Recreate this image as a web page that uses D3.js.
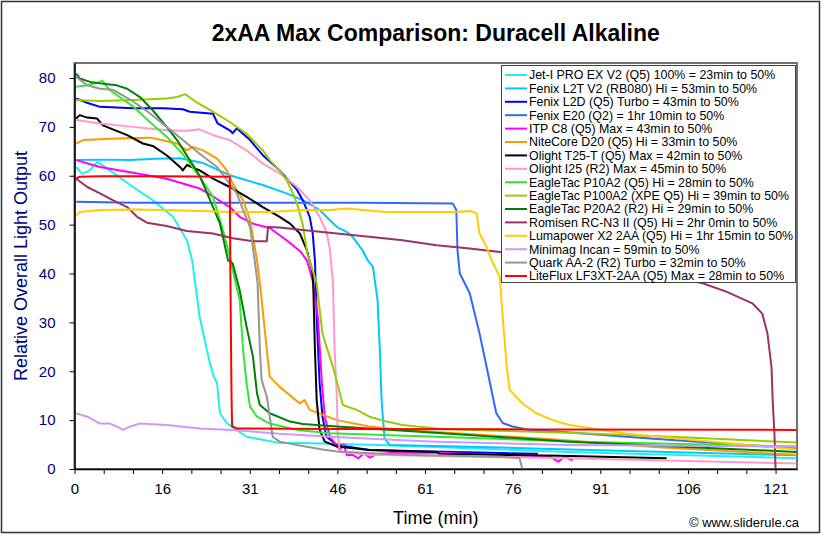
<!DOCTYPE html>
<html><head><meta charset="utf-8">
<script src="https://cdn.jsdelivr.net/npm/d3@7"></script>
<style>body{margin:0;background:#fff}svg{display:block;font-family:"Liberation Sans",Arial,sans-serif}</style>
</head><body><svg id="c" width="823" height="536"></svg>
<script>
// ---- data ----
const seriesNames = [
  "Jet-I PRO EX V2 (Q5) 100% = 23min to 50%",
  "Fenix L2T V2 (RB080) Hi = 53min to 50%",
  "Fenix L2D (Q5) Turbo = 43min to 50%",
  "Fenix E20 (Q2) = 1hr 10min to 50%",
  "ITP C8 (Q5) Max = 43min to 50%",
  "NiteCore D20 (Q5) Hi = 33min to 50%",
  "Olight T25-T (Q5) Max = 42min to 50%",
  "Olight I25 (R2) Max = 45min to 50%",
  "EagleTac P10A2 (Q5) Hi = 28min to 50%",
  "EagleTac P100A2 (XPE Q5) Hi = 39min to 50%",
  "EagleTac P20A2 (R2) Hi = 29min to 50%",
  "Romisen RC-N3 II (Q5) Hi = 2hr 0min to 50%",
  "Lumapower X2 2AA (Q5) Hi = 1hr 15min to 50%",
  "Minimag Incan = 59min to 50%",
  "Quark AA-2 (R2) Turbo = 32min to 50%",
  "LiteFlux LF3XT-2AA (Q5) Max = 28min to 50%"
];
const seriesColors = ["#22F0F0","#00C8FF","#0000FF","#3366FF","#FF00FF","#FF9900","#000000","#FF99CC",
  "#33E633","#99CC00","#008000","#993366","#FFCC00","#CC99FF","#969696","#FF0000"];

// [time (min), relative output]
const jetI = [[0.3,61.8],[1.3,60.4],[2.5,61],[4,62.8],[6.1,61.1],[10.1,57.7],[13.5,55],[17,51.6],[19.4,46.8],[20.3,42.7],[21.6,31.1],[23.3,22],[24,19],[24.6,17.6],[25.1,11.4],[26.3,9.4],[28,8],[29.7,6.6],[34.2,5.6],[35.4,5.3],[38.9,5.3],[52.7,4.9],[85.4,3.5],[124.6,2.2]];
const l2t = [[0.3,63.2],[5,63.3],[9.6,63.2],[14,63.5],[18.2,63.6],[22.2,62.6],[26.8,60.1],[32.5,58.1],[36.6,56.4],[39.4,55],[42.3,53],[45.3,49.5],[47,48.5],[48,47.5],[49.7,44.8],[50.6,42.7],[51.5,41.4],[52.3,34.6],[52.7,24.3],[53,14.1],[53.5,6.3],[54.4,4.9],[70,4.5],[85.4,4.0],[124.6,2.8]];
const l2d = [[0.3,75.8],[2,75],[4.4,74.1],[10.1,73.8],[15.3,73.8],[18.7,73.6],[19.9,73.1],[23.9,72.7],[24.7,70.7],[26.8,69.3],[27.3,68.7],[28,69.7],[30.3,67.3],[32.5,64.2],[35.4,61.1],[38.4,57.1],[39.4,55],[40.6,51.6],[41.1,48.3],[41.5,42.7],[41.8,31.1],[42.3,17.6],[42.8,10.7],[43.5,6.6],[45.3,4.9],[50.9,3.9],[62,3.6],[72,3.3],[80,3.1]];
const e20 = [[0.3,54.7],[10,54.5],[30,54.5],[50,54.5],[65.3,54.3],[65.9,53],[66.1,44.8],[66.5,40],[68.2,36],[69.9,27.8],[71.6,18.2],[72.8,11.4],[73.9,9.4],[75.6,8.7],[78.5,8.0],[83.7,7.6],[87.2,7.3],[100,6.2],[112,5.2],[124.6,4.2]];
const itp = [[0.3,63.2],[4.4,61.8],[10.1,60.6],[15.9,59.4],[21.6,57.4],[24,55.7],[26.8,53.6],[28.5,51.6],[30.8,50.2],[33.7,49.3],[36.6,46.8],[39,44.5],[40.1,42.7],[41.1,38.6],[42,31.1],[42.7,17.6],[43.2,10.7],[44.1,6.6],[45.8,3.9],[46.5,5],[47,2.8],[48,2.9],[49,2.2],[50,3.2],[51,2.3],[52,3],[55,3.3],[62.5,3.3],[70,3.0],[78,2.7],[82,2.6],[83.5,1.5],[84.5,2.5],[86,1.8]];
const d20 = [[0.3,66.6],[1.5,67.3],[7.3,67.6],[13,67.8],[15,67.3],[17.7,66.6],[19.4,65.2],[20.4,65.9],[22.2,65.2],[24.6,63.5],[26.3,61.1],[27.3,58.4],[29.1,55],[30.3,50.9],[31.5,42.7],[32,38],[33.2,24.3],[33.7,18.9],[35.4,16.8],[38.9,13.4],[39.7,14.1],[40.6,12.1],[45.3,10.0],[50.9,8.7],[56.6,8.0],[70,7.0],[83.7,6.0],[100,4.5],[124.6,2.9]];
const t25 = [[0.3,71.7],[0.9,72.4],[2.2,71.9],[3.9,71.7],[4.9,70.3],[9.1,68.3],[11.8,66.6],[13.5,66.1],[15.9,64.2],[18.2,61.8],[18.7,61.1],[19.4,62.2],[21.6,61.1],[23.9,59.4],[26.8,57.7],[29.7,55.7],[32.5,53.6],[35.4,51.6],[37.2,50.2],[38.9,48.2],[40.1,44.8],[41,40.7],[41.2,38],[41.5,24.3],[41.8,14.1],[42.3,8.0],[43.2,5.6],[45.3,4.6],[50.9,3.9],[62.5,3.5],[63,3.1],[83.7,2.7],[102.2,2.2]];
const i25 = [[0.3,71.4],[4.4,70.7],[10.1,70.0],[15.9,69.3],[19.4,69.2],[21.6,69.5],[23.9,68.3],[26.8,67.3],[29.7,65.2],[32.5,62.5],[35.4,60.5],[38.4,57.7],[40.6,55],[42.3,51.6],[43.5,48.5],[44.1,44.8],[44.6,38],[44.9,24.3],[45.3,14.1],[45.4,7.3],[45.8,3.5],[50.9,2.9],[68.2,2.5],[85.4,2.2],[100,1.8],[124.6,1.1]];
const p10a2 = [[0.3,78.2],[2.2,78.5],[4.4,79.2],[4.7,79.5],[6.1,77.5],[10.1,74.2],[13,71],[15.9,68],[18.7,64.4],[21.6,59.8],[23.9,55.7],[25.6,49],[26.8,43.5],[27.3,40.7],[28.5,34.6],[29.1,24.3],[29.7,17.5],[30.3,12.7],[31.5,10.7],[33.7,9.3],[38.4,8.0],[44.1,7.3],[65,6.5],[87.2,5.6],[124.6,4.6]];
const p100a2 = [[0.3,75.5],[4.4,75.3],[10.1,75.5],[15.9,75.8],[17.7,76.1],[19.1,76.7],[21.1,75],[23.9,73.1],[26.8,71],[29.7,68.6],[32.5,65.2],[33.7,63.2],[35.4,61.1],[36.6,59.1],[37.7,56.4],[38.4,54.3],[39.4,50],[40.2,44],[41.8,38],[42.8,27.7],[44.6,20.9],[45.8,15.5],[46.3,13.1],[48.7,12.1],[50.9,10.7],[53.9,9.7],[56.6,9.0],[62.5,8.3],[68.2,8.0],[85.4,7.4],[105,6.5],[124.6,5.4]];
const p20a2 = [[0.3,80.9],[0.9,79.9],[2.7,79.2],[4.4,78.9],[7.3,78.5],[9.1,77.8],[11.3,76.1],[13.5,73.4],[15.9,70],[17.7,67.3],[19.9,63.2],[21.6,60],[23.4,55],[25.1,50.2],[26.5,42.7],[27.3,42.1],[28.5,36.6],[29.7,29.1],[30.8,23],[31.5,15.5],[32,13.1],[33.7,11.4],[37.2,9.7],[39.4,9.2],[45.3,8.7],[59.6,7.6],[85.4,5.6],[124.6,3.5]];
const romisen = [[0.3,59.4],[2.2,57.7],[4.4,56.4],[6.6,55],[9.1,53.6],[10.8,51.6],[12.5,50.4],[15.9,49.7],[19.4,48.7],[23.9,48.2],[27.3,47.2],[30.8,46.6],[33.2,46.6],[33.4,49.5],[35.4,49.4],[39.4,48.9],[45.3,48.2],[50.9,47.5],[56.6,46.8],[62.5,45.8],[68.2,45.1],[73.4,44.4],[90.6,42.5],[99.2,40.5],[108.4,38],[112.5,36.3],[117,33.9],[118.7,31.8],[119.6,27.7],[120.3,20.9],[120.5,14.1],[120.8,7.3],[121,0]];
const lumapower = [[0.3,51.9],[0.9,52.6],[4.4,53],[10.1,53.1],[15.9,53],[21.6,52.8],[27.3,52.6],[33.7,52.6],[39.4,53],[44.1,53],[47,53.3],[49.7,53],[53.9,52.6],[59.6,52.6],[65.3,52.6],[68.2,52.8],[69.4,52.3],[69.9,48.2],[71.1,45.5],[72,42.7],[73.4,39.3],[73.9,31.1],[74.6,20.9],[75.1,16.2],[77.3,13.4],[79.7,11.4],[82.5,10],[85.4,9.0],[95.3,7.2],[112.5,5.3],[124.6,4.0]];
const minimag = [[0.3,11.4],[2.2,10.7],[4.4,9.3],[6.1,9.3],[7.3,8.7],[8.4,8.0],[9.6,8.7],[11.3,9.3],[15.9,9.0],[21.6,8.3],[27.3,8.0],[35.4,7.2],[44.1,6.6],[56.6,5.9],[62.5,5.6],[85.4,4.9],[124.6,4.6]];
const quark = [[0.3,80.2],[2.2,78.5],[4.4,77.8],[6.6,77.6],[10.1,75.2],[13,72.8],[15.9,70],[18.7,67.3],[21.6,64.5],[24.6,61.8],[26.3,59.1],[28,56.4],[29.1,53],[30.3,49.5],[31.1,42.7],[31.6,38],[32,24.3],[32.3,18.2],[33.2,14.8],[33.7,10.7],[34.2,6.6],[35.4,5.6],[38.4,4.9],[42.8,4.0],[45.3,3.6],[56.6,2.9],[73.9,2.5],[76.8,2.2],[77.3,0]];
const liteflux = [[0.3,59.4],[0.9,59.8],[4.4,59.9],[15,59.9],[26.8,59.8],[26.9,40],[27.1,15],[27.2,8.7],[28,8.3],[44.1,8.2],[80,8.1],[124.6,8.0]];

const seriesData = [jetI,l2t,l2d,e20,itp,d20,t25,i25,p10a2,p100a2,p20a2,romisen,lumapower,minimag,quark,liteflux];

const yTickValues = [0,10,20,30,40,50,60,70,80];
const xTickLabels = ["0","16","31","46","61","76","91","106","121"];
const xTickStep = 15.125;      // minutes between labelled ticks
const xMax = 124.7;
const yMax = 83.07;

// ---- drawing ----
const svg = d3.select("#c");
const L = 74.5, R = 797, T = 63, B = 469;
const x = d3.scaleLinear().domain([0, xMax]).range([L, R]);
const y = d3.scaleLinear().domain([0, yMax]).range([B, T]);

svg.append("rect").attr("x",1.5).attr("y",1.5).attr("width",818).attr("height",531)
  .attr("fill","#fff").attr("stroke","#333").attr("stroke-width",1.5);

svg.append("text").attr("x",(L+R)/2).attr("y",41).attr("text-anchor","middle")
  .attr("font-size",23).attr("font-weight","bold").attr("fill","#000")
  .text("2xAA Max Comparison: Duracell Alkaline");

// plot area border
svg.append("rect").attr("x",L).attr("y",T).attr("width",R-L).attr("height",B-T)
  .attr("fill","#fff").attr("stroke","#707070").attr("stroke-width",2);

svg.append("defs").append("clipPath").attr("id","clip")
  .append("rect").attr("x",L).attr("y",T).attr("width",R-L).attr("height",B-T+1);

const line = d3.line().x(d=>x(d[0])).y(d=>y(d[1]));
const g = svg.append("g").attr("clip-path","url(#clip)");
seriesData.forEach((s,i)=>{
  g.append("path").attr("d",line(s)).attr("fill","none")
    .attr("stroke",seriesColors[i]).attr("stroke-width",2).attr("stroke-linejoin","round");
});

// axes
const minorTicks = d3.range(0, 25).map(i=>i*xTickStep/3);
const xAxis = d3.axisBottom(x).tickValues(minorTicks).tickSize(5).tickSizeOuter(0).tickPadding(9)
  .tickFormat((d,i)=> i%3===0 ? xTickLabels[i/3] : "");
const gx = svg.append("g").attr("transform",`translate(0,${B})`).call(xAxis);
gx.select(".domain").attr("stroke","#000").attr("stroke-width",1.5);
gx.selectAll("line").attr("stroke","#000");
gx.selectAll("text").attr("font-size",15).attr("fill","#000").attr("font-family","Liberation Sans, Arial, sans-serif");

const yAxis = d3.axisLeft(y).tickValues(yTickValues).tickSize(5).tickSizeOuter(0).tickPadding(14);
const gy = svg.append("g").attr("transform",`translate(${L},0)`).call(yAxis);
gy.select(".domain").attr("stroke","#000").attr("stroke-width",1.5);
gy.selectAll("line").attr("stroke","#000");
gy.selectAll("text").attr("font-size",15).attr("fill","#000080").attr("font-family","Liberation Sans, Arial, sans-serif");

svg.append("text").attr("transform",`translate(27,${(T+B)/2}) rotate(-90)`).attr("text-anchor","middle")
  .attr("font-size",18).attr("fill","#000080").text("Relative Overall Light Output");
svg.append("text").attr("x",(L+R)/2).attr("y",524).attr("text-anchor","middle")
  .attr("font-size",18).attr("fill","#000").text("Time (min)");
svg.append("text").attr("x",799).attr("y",527).attr("text-anchor","end")
  .attr("font-size",13).attr("fill","#000").text("\u00A9 www.sliderule.ca");

// legend
const lg = svg.append("g");
lg.append("rect").attr("x",501.5).attr("y",65.5).attr("width",294).attr("height",217)
  .attr("fill","#fff").attr("stroke","#404040").attr("stroke-width",1);
seriesNames.forEach((n,i)=>{
  const yy = 75 + i*13.4;
  lg.append("line").attr("x1",505).attr("x2",527).attr("y1",yy).attr("y2",yy)
    .attr("stroke",seriesColors[i]).attr("stroke-width",2);
  lg.append("text").attr("x",529).attr("y",yy+4.3).attr("font-size",12.4).attr("fill","#000").text(n);
});
</script></body></html>
